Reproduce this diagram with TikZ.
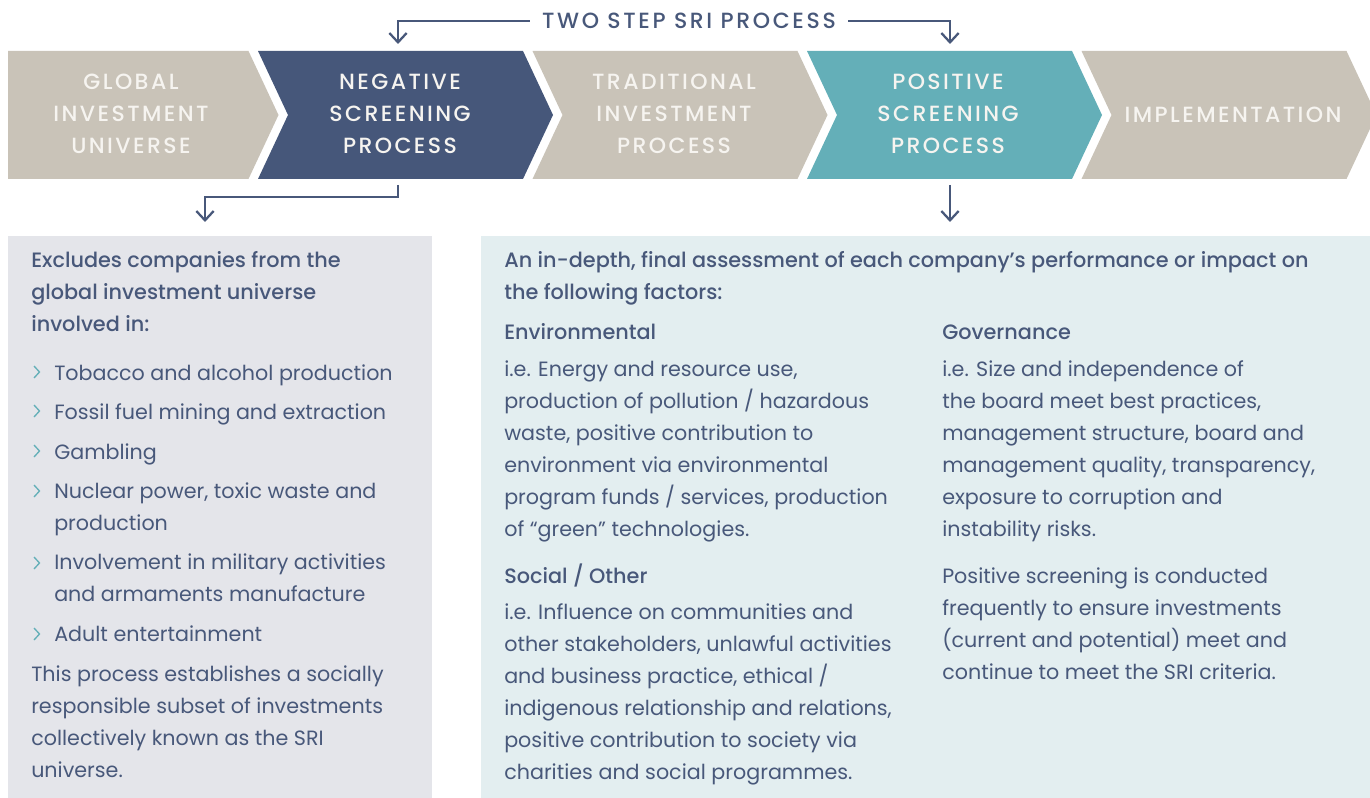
\documentclass[tikz,border=0pt]{standalone}
\usepackage{fontspec}
\setmainfont{Poppins}[BoldFont={Poppins Medium}]
\newfontfamily\capsfont[LetterSpace=11,BoldFont={Poppins Medium}]{Poppins}
\newfontfamily\labelfont[LetterSpace=12,BoldFont={Poppins Medium}]{Poppins}
\usetikzlibrary{arrows.meta}

\definecolor{sriGray}{RGB}{201,195,184}
\definecolor{sriNavy}{RGB}{70,87,122}
\definecolor{sriTeal}{RGB}{100,175,184}
\definecolor{sriInk}{RGB}{72,88,122}
\definecolor{negBack}{RGB}{228,229,234}
\definecolor{posBack}{RGB}{227,238,240}
\definecolor{chevText}{RGB}{246,244,240}

% body nodes are placed at the baseline of their last line
\tikzset{
  chevlabel/.style={text=chevText, align=center, inner sep=0pt,
    font=\capsfont\bfseries\fontsize{16.5}{24}\selectfont},
  toplabel/.style={text=sriInk, inner xsep=9pt, inner ysep=0pt,
    font=\labelfont\bfseries\fontsize{16.5}{18}\selectfont},
  flow/.style={draw=sriInk, line width=1.7pt,
    -{Straight Barb[length=7pt,width=13pt]}},
  bulletmark/.style={draw=sriTeal, line width=1pt},
  body/.style={text=sriInk, align=left, anchor=base west, inner sep=0pt,
    font=\fontsize{15.5}{24}\selectfont},
  bodyhead/.style={body, font=\bfseries\fontsize{15.6}{24}\selectfont}
}

\begin{document}
\begin{tikzpicture}[x=0.75pt,y=0.75pt,yscale=-1,xscale=1]
\useasboundingbox (0,0) rectangle (1370,798);
\clip (0,0) rectangle (1370,798);

% process chevrons
\fill [sriGray] (8,51) -- (248.5,51) -- (278.5,115) -- (248.5,179) -- (8,179) -- cycle ;
\foreach \xl/\col in {258/sriNavy, 532.5/sriGray, 807/sriTeal, 1081.5/sriGray}
  \fill [\col] (\xl,51) -- (\xl+265,51) -- (\xl+295,115) -- (\xl+265,179) -- (\xl,179) -- (\xl+30,115) -- cycle ;

\node [chevlabel] (glob) at (131,114) {GLOBAL\\INVESTMENT\\UNIVERSE};
\node [chevlabel] (neg)  at (400,114) {NEGATIVE\\SCREENING\\PROCESS};
\node [chevlabel] (trad) at (674,114) {TRADITIONAL\\INVESTMENT\\PROCESS};
\node [chevlabel] (pos)  at (948,114) {POSITIVE\\SCREENING\\PROCESS};
\node [chevlabel] (impl) at (1233,115) {IMPLEMENTATION};

% two step label and its arrows
\node [toplabel] (twostep) at (689,21) {TWO STEP SRI PROCESS};
\coordinate (negtop) at (398,44);
\coordinate (postop) at (950,44);
\draw [flow] (twostep.west) -| (negtop);
\draw [flow] (twostep.east) -| (postop);

% boxes below
\fill [negBack] (8,236) rectangle (432,798);
\fill [posBack] (481,236) rectangle (1370,798);

\coordinate (negbot) at (398,185);
\coordinate (negin) at (205,222);
\coordinate (posbot) at (950,185);
\coordinate (posin) at (950,222);
\draw [flow] (negbot) -- ++(0,12) -| (negin);
\draw [flow] (posbot) -- (posin);

% negative screening text
\node [bodyhead] (negdesc) at (31,332) {Excludes companies from the\\global investment universe\\involved in:};
\foreach \y in {372,411,451,491,563,634}
  \draw [bulletmark] (34,\y-6) -- (39.5,\y) -- (34,\y+6);
\node [body] (neglist) at (54,641) {Tobacco and alcohol production\\[5.5pt]Fossil fuel mining and extraction\\[5.5pt]Gambling\\[5.5pt]Nuclear power, toxic waste and\\production\\[5.5pt]Involvement in military activities\\and armaments manufacture\\[5.5pt]Adult entertainment};
\node [body] (negnote) at (31,777) {This process establishes a socially\\responsible subset of investments\\collectively known as the SRI\\universe.};

% positive screening text
\node [bodyhead] (posdesc) at (504,300) {An in-depth, final assessment of each company’s performance or impact on\\the following factors:};
\node [bodyhead] (envhead) at (504,340) {Environmental};
\node [body] (envtext) at (504,536) {i.e. Energy and resource use,\\production of pollution / hazardous\\waste, positive contribution to\\environment via environmental\\program funds / services, production\\of “green” technologies.};
\node [bodyhead] (sochead) at (504,583) {Social / Other};
\node [body] (soctext) at (504,779) {i.e. Influence on communities and\\other stakeholders, unlawful activities\\and business practice, ethical /\\indigenous relationship and relations,\\positive contribution to society via\\charities and social programmes.};
\node [bodyhead] (govhead) at (942,340) {Governance};
\node [body] (govtext) at (942,536) {i.e. Size and independence of\\the board meet best practices,\\management structure, board and\\management quality, transparency,\\exposure to corruption and\\instability risks.};
\node [body] (posnote) at (942,679) {Positive screening is conducted\\frequently to ensure investments\\(current and potential) meet and\\continue to meet the SRI criteria.};

\end{tikzpicture}
\end{document}
